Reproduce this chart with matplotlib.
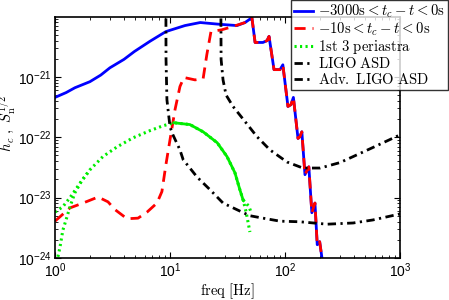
import numpy as np
import matplotlib
matplotlib.use("Agg")
import matplotlib.pyplot as plt

plt.rcParams['font.family'] = ['Liberation Sans', 'DejaVu Sans']
plt.rcParams['mathtext.fontset'] = 'cm'

# frequencies in Hz, amplitudes as log10 values
blue_f = [1.0, 1.25, 1.49, 2.01, 2.5, 3.0, 3.98, 4.9, 6.7, 9.2, 13.5, 18.3, 27.3, 38.2, 44.9]
blue_e = [-21.34, -21.26, -21.18, -21.08, -20.97, -20.85, -20.71, -20.58, -20.41, -20.25,
          -20.15, -20.10, -20.13, -20.15, -20.10]

red_f = [1.0, 1.35, 1.75, 2.37, 2.89, 3.33, 4.23, 5.27, 6.31, 7.7, 8.5, 9.2, 10.0, 11.06,
         12.2, 13.2, 16.5, 19.4, 20.9, 22.7, 28.2, 34.6, 44.9]
red_e = [-23.39, -23.17, -23.09, -22.99, -23.07, -23.20, -23.35, -23.34, -23.24, -23.09,
         -22.90, -22.46, -22.04, -21.54, -21.16, -21.01, -21.05, -21.03, -20.63, -20.25,
         -20.22, -20.17, -20.10]

# staircase shared by both waveforms above ~50 Hz
stair_f = [51.5, 54.9, 64.2, 69.7, 72.6, 80.2, 90.4, 95.7, 106, 112.6, 118.2, 129.6, 134.8,
           140, 149, 161, 171, 182, 190.5, 200, 212]
stair_e = [-20.02, -20.43, -20.43, -20.40, -20.33, -20.88, -20.88, -20.80, -21.49, -21.46,
           -21.34, -22.02, -21.99, -21.91, -22.62, -22.49, -23.25, -23.09, -23.78, -23.73, -24.07]

green_f = [1.0, 1.17, 1.35, 1.65, 2.01, 2.61, 3.46, 4.76, 6.7, 8.7, 10.8, 14.9, 19.4, 25.7,
           31.3, 36.7, 40.5, 43.2, 45.9, 47.6, 49.5]
green_e = [-23.24, -23.15, -23.00, -22.76, -22.54, -22.32, -22.16, -22.01, -21.89, -21.81,
           -21.76, -21.79, -21.91, -22.09, -22.32, -22.59, -22.87, -23.04, -23.24, -23.40, -23.57]
green_lo_f = [1.06, 1.105, 1.17, 1.27, 1.35, 1.49, 1.72, 2.01]
green_lo_e = [-23.98, -23.82, -23.54, -23.32, -23.15, -22.92, -22.71, -22.54]
green_tail_f = [43.2, 45.9, 48.6, 50.6]
green_tail_e = [-23.04, -23.09, -23.15, -23.24]

ligo_f = [27.6, 27.7, 27.8, 28.9, 30.7, 35.3, 44.9, 57, 74, 104, 143, 202, 300, 391, 580, 1000]
ligo_e = [-19.5, -20.0, -20.71, -21.05, -21.30, -21.49, -21.74, -21.99, -22.21, -22.41,
          -22.51, -22.51, -22.42, -22.32, -22.17, -21.96]

adv_f = [9.2, 9.23, 9.4, 10.0, 10.6, 12.2, 13.0, 17.2, 22.3, 28.9, 38.2, 49.5, 64.2, 90.4,
         134.8, 232, 391, 580, 1000]
adv_e = [-19.5, -20.71, -21.38, -21.83, -21.96, -22.21, -22.37, -22.66, -22.87, -23.09,
         -23.20, -23.30, -23.34, -23.39, -23.40, -23.44, -23.42, -23.37, -23.27]

labels = [r'$-3000\mathrm{s} < t_c - t < 0\mathrm{s}$',
          r'$-10\mathrm{s} < t_c - t < 0\mathrm{s}$',
          r'$\mathrm{1st\ 3\ periastra}$',
          r'$\mathrm{LIGO\ ASD}$',
          r'$\mathrm{Adv.\ LIGO\ ASD}$']

fig = plt.figure(figsize=(4.49, 3.0), dpi=100)
ax = fig.add_axes([0.1225, 0.14, 0.7685, 0.803])

dashdot = (0, (3.0, 1.6, 0.8, 1.6))
dots = (0, (0.7, 1.1))

hb, = ax.plot(blue_f + stair_f, 10 ** np.array(blue_e + stair_e), color='#0000ff', lw=2.0,
              label=labels[0])
hr, = ax.plot(red_f + stair_f, 10 ** np.array(red_e + stair_e), color='#ff0000', lw=2.0,
              ls=(0, (4.0, 2.5)), label=labels[1])
hg, = ax.plot(green_f, 10 ** np.array(green_e), color='#00ee00', lw=2.2, ls=dots,
              label=labels[2])
ax.plot(green_lo_f, 10 ** np.array(green_lo_e), color='#00ee00', lw=2.2, ls=dots)
ax.plot(green_tail_f, 10 ** np.array(green_tail_e), color='#00ee00', lw=2.2, ls=dots)
# the densely sampled middle part of the periastra curve looks solid
sel = [i for i, f in enumerate(green_f) if 10.0 <= f <= 43.2]
ax.plot([green_f[i] for i in sel], 10 ** np.array([green_e[i] for i in sel]),
        color='#00ee00', lw=2.0)
hl, = ax.plot(ligo_f, 10 ** np.array(ligo_e), color='black', lw=2.0, ls=dashdot,
              label=labels[3])
ha, = ax.plot(adv_f, 10 ** np.array(adv_e), color='black', lw=2.0, ls=dashdot,
              label=labels[4])

ax.set_xscale('log')
ax.set_yscale('log')
ax.set_xlim(1, 1000)
ax.set_ylim(1e-24, 10 ** -20.01)
ax.tick_params(which='both', direction='in', top=True, right=True, labelsize=10)
ax.tick_params(which='major', length=4, width=0.8, pad=2.5)
ax.tick_params(which='minor', length=2, width=0.6)
for s in ax.spines.values():
    s.set_linewidth(1.2)

ax.set_xlabel(r'$\mathrm{freq\ [Hz]}$', fontsize=10.5, labelpad=1)
ax.set_ylabel(r'$\widetilde{h}_c\ ,\ S_{\rm n}^{1/2}$', fontsize=10.5)
ax.yaxis.set_label_coords(-0.108, 0.56)

leg = fig.legend(handles=[hb, hr, hg, hl, ha], loc='upper right',
                 bbox_to_anchor=(0.998, 1.0), fontsize=10.6, frameon=True, fancybox=False,
                 edgecolor='black', handlelength=1.3, handletextpad=0.35,
                 borderpad=0.2, labelspacing=0.0, borderaxespad=0.0)
leg.get_frame().set_linewidth(1.0)

fig.savefig('out.png', dpi=100)
